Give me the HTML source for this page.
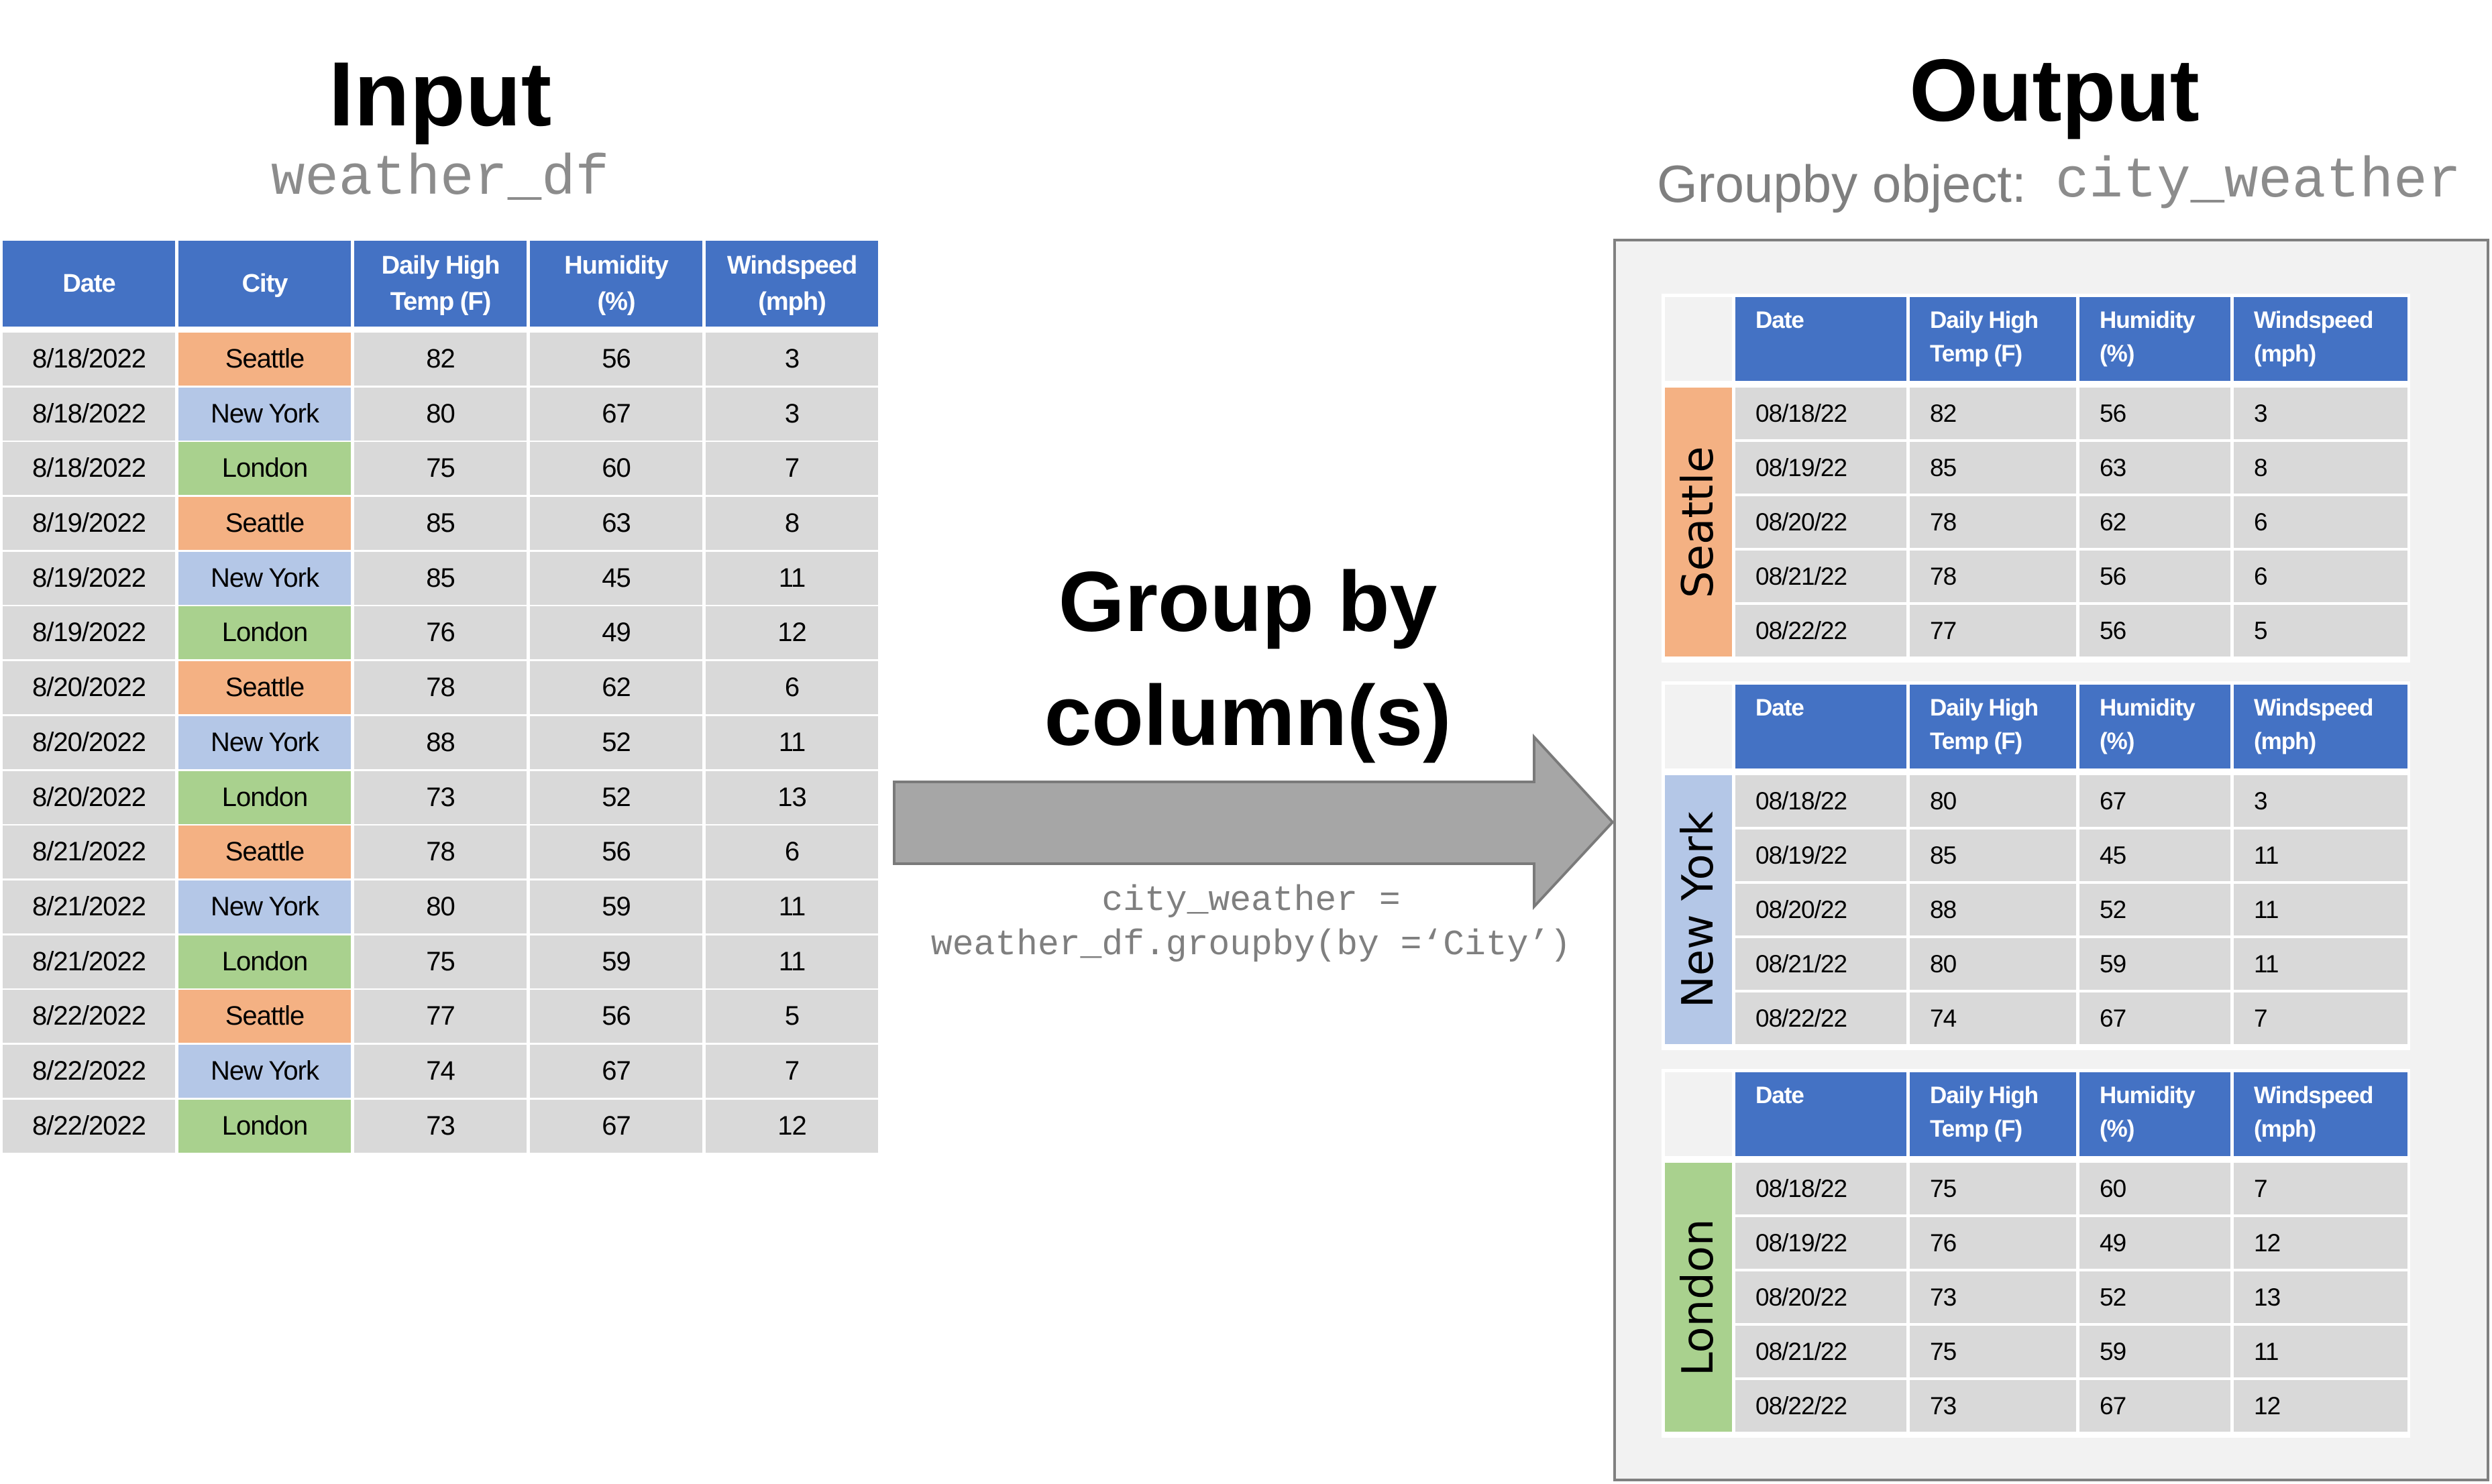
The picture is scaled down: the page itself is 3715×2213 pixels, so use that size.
<!DOCTYPE html>
<html><head><meta charset="utf-8"><style>
body{margin:0;width:3715px;height:2213px;background:#fff;position:relative;overflow:hidden;font-family:"Liberation Sans",sans-serif}
.a{position:absolute}
.g{display:grid;position:absolute}
.h{background:#4472c4;color:#fff;font-weight:bold;font-size:38px;display:flex;align-items:center;justify-content:center;text-align:center;line-height:54px;letter-spacing:-1px}
.c{background:#d9d9d9;color:#000;font-size:40px;display:flex;align-items:center;justify-content:center;letter-spacing:-1px}
.s{background:#f4b183}.n{background:#b4c7e7}.l{background:#a9d18e}
.mono{font-family:"Liberation Mono",monospace;color:#8c8c8c}
.ot{background:#fff;position:absolute;left:2477px;width:1116px;height:550px}
.oh{background:#4472c4;color:#fff;font-weight:bold;font-size:35px;line-height:50px;padding:10px 0 0 30px;box-sizing:border-box;letter-spacing:-1px}
.oc{background:#d9d9d9;font-size:37px;display:flex;align-items:center;padding-left:30px;letter-spacing:-1px;height:77px}
.og{display:grid;position:absolute;left:5px;top:5px;grid-template-columns:100px 255px 248px 225px 259px;column-gap:5px;grid-template-rows:125px 10px repeat(5,81px);row-gap:0}
.cityv{grid-column:1;grid-row:3/8;margin-bottom:4px;display:flex;align-items:center;justify-content:center;writing-mode:vertical-rl;transform:rotate(180deg);font-family:"DejaVu Sans",sans-serif;font-size:64px}
.corner{background:#f2f2f2}
</style></head><body>
<div class="a" style="left:0;width:1312px;top:60px;text-align:center;font-size:136px;font-weight:bold;line-height:160px">Input</div>
<div class="a mono" style="left:0;width:1312px;top:218px;text-align:center;font-size:84px;line-height:100px">weather_df</div>
<div class="a" style="left:2410px;width:1305px;top:55px;text-align:center;font-size:132px;font-weight:bold;line-height:160px">Output</div>
<div class="a" style="left:2470px;top:224px;font-size:78px;line-height:100px;color:#7f7f7f">Groupby object:</div>
<div class="a mono" style="left:3064px;top:222px;font-size:84px;line-height:100px">city_weather</div>

<div class="g" style="left:4px;top:359px;grid-template-columns:repeat(5,257px);column-gap:5px;grid-template-rows:128px">
<div class="h">Date</div><div class="h">City</div><div class="h">Daily High<br>Temp (F)</div><div class="h">Humidity<br>(%)</div><div class="h">Windspeed<br>(mph)</div>
</div>
<div class="g" style="left:4px;top:496px;grid-template-columns:repeat(5,257px);column-gap:5px;grid-template-rows:repeat(15,79px);row-gap:2.7px">
<div class="c">8/18/2022</div><div class="c s">Seattle</div><div class="c">82</div><div class="c">56</div><div class="c">3</div>
<div class="c">8/18/2022</div><div class="c n">New York</div><div class="c">80</div><div class="c">67</div><div class="c">3</div>
<div class="c">8/18/2022</div><div class="c l">London</div><div class="c">75</div><div class="c">60</div><div class="c">7</div>
<div class="c">8/19/2022</div><div class="c s">Seattle</div><div class="c">85</div><div class="c">63</div><div class="c">8</div>
<div class="c">8/19/2022</div><div class="c n">New York</div><div class="c">85</div><div class="c">45</div><div class="c">11</div>
<div class="c">8/19/2022</div><div class="c l">London</div><div class="c">76</div><div class="c">49</div><div class="c">12</div>
<div class="c">8/20/2022</div><div class="c s">Seattle</div><div class="c">78</div><div class="c">62</div><div class="c">6</div>
<div class="c">8/20/2022</div><div class="c n">New York</div><div class="c">88</div><div class="c">52</div><div class="c">11</div>
<div class="c">8/20/2022</div><div class="c l">London</div><div class="c">73</div><div class="c">52</div><div class="c">13</div>
<div class="c">8/21/2022</div><div class="c s">Seattle</div><div class="c">78</div><div class="c">56</div><div class="c">6</div>
<div class="c">8/21/2022</div><div class="c n">New York</div><div class="c">80</div><div class="c">59</div><div class="c">11</div>
<div class="c">8/21/2022</div><div class="c l">London</div><div class="c">75</div><div class="c">59</div><div class="c">11</div>
<div class="c">8/22/2022</div><div class="c s">Seattle</div><div class="c">77</div><div class="c">56</div><div class="c">5</div>
<div class="c">8/22/2022</div><div class="c n">New York</div><div class="c">74</div><div class="c">67</div><div class="c">7</div>
<div class="c">8/22/2022</div><div class="c l">London</div><div class="c">73</div><div class="c">67</div><div class="c">12</div>
</div>

<div class="a" style="left:1330px;width:1060px;top:812px;text-align:center;font-size:127px;font-weight:bold;line-height:170px">Group by<br>column(s)</div>
<svg class="a" style="left:0;top:0" width="3715" height="2213"><polygon points="1333,1166 2287,1166 2287,1099 2404,1226 2287,1352 2287,1288 1333,1288" fill="#a6a6a6" stroke="#7a7a7a" stroke-width="4"/></svg>
<div class="a mono" style="left:1330px;width:1070px;top:1310px;text-align:center;font-size:53px;line-height:66px;color:#7f7f7f">city_weather =<br>weather_df.groupby(by =‘City’)</div>

<div class="a" style="left:2405px;top:356px;width:1306px;height:1853px;background:#f2f2f2;border:4px solid #808080;box-sizing:border-box"></div>

<div class="ot" style="top:438px"><div class="og">
<div class="corner"></div><div class="oh">Date</div><div class="oh">Daily High<br>Temp (F)</div><div class="oh">Humidity<br>(%)</div><div class="oh">Windspeed<br>(mph)</div>
<div style="grid-column:1/6"></div>
<div class="cityv s">Seattle</div>
<div class="oc">08/18/22</div><div class="oc">82</div><div class="oc">56</div><div class="oc">3</div>
<div class="oc">08/19/22</div><div class="oc">85</div><div class="oc">63</div><div class="oc">8</div>
<div class="oc">08/20/22</div><div class="oc">78</div><div class="oc">62</div><div class="oc">6</div>
<div class="oc">08/21/22</div><div class="oc">78</div><div class="oc">56</div><div class="oc">6</div>
<div class="oc">08/22/22</div><div class="oc">77</div><div class="oc">56</div><div class="oc">5</div>
</div></div>

<div class="ot" style="top:1016px"><div class="og">
<div class="corner"></div><div class="oh">Date</div><div class="oh">Daily High<br>Temp (F)</div><div class="oh">Humidity<br>(%)</div><div class="oh">Windspeed<br>(mph)</div>
<div style="grid-column:1/6"></div>
<div class="cityv n">New York</div>
<div class="oc">08/18/22</div><div class="oc">80</div><div class="oc">67</div><div class="oc">3</div>
<div class="oc">08/19/22</div><div class="oc">85</div><div class="oc">45</div><div class="oc">11</div>
<div class="oc">08/20/22</div><div class="oc">88</div><div class="oc">52</div><div class="oc">11</div>
<div class="oc">08/21/22</div><div class="oc">80</div><div class="oc">59</div><div class="oc">11</div>
<div class="oc">08/22/22</div><div class="oc">74</div><div class="oc">67</div><div class="oc">7</div>
</div></div>

<div class="ot" style="top:1594px"><div class="og">
<div class="corner"></div><div class="oh">Date</div><div class="oh">Daily High<br>Temp (F)</div><div class="oh">Humidity<br>(%)</div><div class="oh">Windspeed<br>(mph)</div>
<div style="grid-column:1/6"></div>
<div class="cityv l">London</div>
<div class="oc">08/18/22</div><div class="oc">75</div><div class="oc">60</div><div class="oc">7</div>
<div class="oc">08/19/22</div><div class="oc">76</div><div class="oc">49</div><div class="oc">12</div>
<div class="oc">08/20/22</div><div class="oc">73</div><div class="oc">52</div><div class="oc">13</div>
<div class="oc">08/21/22</div><div class="oc">75</div><div class="oc">59</div><div class="oc">11</div>
<div class="oc">08/22/22</div><div class="oc">73</div><div class="oc">67</div><div class="oc">12</div>
</div></div>
</body></html>
